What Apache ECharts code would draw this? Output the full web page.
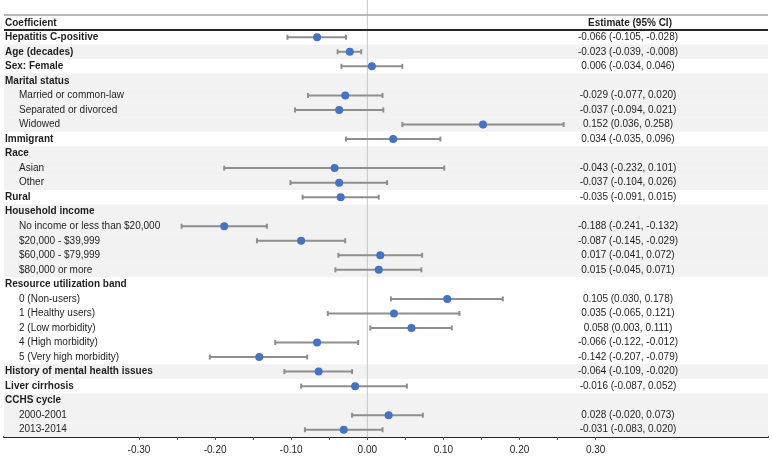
<!DOCTYPE html>
<html><head><meta charset="utf-8">
<script src="https://cdn.jsdelivr.net/npm/echarts@6/dist/echarts.min.js"></script>
<style>html,body{margin:0;padding:0;background:#fff}#c{width:772px;height:456px}</style>
</head><body><div id="c"></div>
<script>
const rowLabels = [
  'Hepatitis C-positive','Age (decades)','Sex: Female','Marital status',
  'Married or common-law','Separated or divorced','Widowed','Immigrant',
  'Race','Asian','Other','Rural','Household income',
  'No income or less than $20,000','$20,000 - $39,999','$60,000 - $79,999','$80,000 or more',
  'Resource utilization band','0 (Non-users)','1 (Healthy users)','2 (Low morbidity)',
  '4 (High morbidity)','5 (Very high morbidity)','History of mental health issues',
  'Liver cirrhosis','CCHS cycle','2000-2001','2013-2014'
];
const rowLevels = [0,0,0,0,1,1,1,0,0,1,1,0,0,1,1,1,1,0,1,1,1,1,1,0,0,0,1,1];
const estimates = [-0.066,-0.023,0.006,null,-0.029,-0.037,0.152,0.034,null,-0.043,-0.037,-0.035,null,
  -0.188,-0.087,0.017,0.015,null,0.105,0.035,0.058,-0.066,-0.142,-0.064,-0.016,null,0.028,-0.031];
const lowerCI = [-0.105,-0.039,-0.034,null,-0.078,-0.095,0.046,-0.028,null,-0.188,-0.101,-0.085,null,
  -0.244,-0.145,-0.038,-0.042,null,0.031,-0.052,0.004,-0.121,-0.207,-0.109,-0.087,null,-0.020,-0.082];
const upperCI = [-0.028,-0.008,0.046,null,0.020,0.021,0.258,0.096,null,0.101,0.026,0.015,null,
  -0.132,-0.029,0.072,0.071,null,0.178,0.121,0.111,-0.012,-0.079,-0.020,0.052,null,0.073,0.020];
const estimateTexts = [
  '-0.066 (-0.105, -0.028)','-0.023 (-0.039, -0.008)','0.006 (-0.034, 0.046)','',
  '-0.029 (-0.077, 0.020)','-0.037 (-0.094, 0.021)','0.152 (0.036, 0.258)','0.034 (-0.035, 0.096)',
  '','-0.043 (-0.232, 0.101)','-0.037 (-0.104, 0.026)','-0.035 (-0.091, 0.015)','',
  '-0.188 (-0.241, -0.132)','-0.087 (-0.145, -0.029)','0.017 (-0.041, 0.072)','0.015 (-0.045, 0.071)',
  '','0.105 (0.030, 0.178)','0.035 (-0.065, 0.121)','0.058 (0.003, 0.111)',
  '-0.066 (-0.122, -0.012)','-0.142 (-0.207, -0.079)','-0.064 (-0.109, -0.020)',
  '-0.016 (-0.087, 0.052)','','0.028 (-0.020, 0.073)','-0.031 (-0.083, 0.020)'
];
const axisLabelValues = [-0.3,-0.2,-0.1,0,0.1,0.2,0.3];
const axisTickValues = [-0.3,-0.25,-0.2,-0.15,-0.1,-0.05,0,0.05,0.1,0.15,0.2,0.25,0.3];
const headerLeft = 'Coefficient';
const headerRight = 'Estimate (95% CI)';

let grp = -1;
const rowGroups = rowLevels.map(l => (l === 0 ? ++grp : grp));

const FONT = '"Liberation Sans", Arial, sans-serif';
const TEXT = '#1e1e1e';
const W = 772;
const GRID = {left: 4, right: 4, top: 30, bottom: 19};
const X_MIN = -0.4774, X_MAX = 0.5265;
const EST_COL_X = 628;

const chart = echarts.init(document.getElementById('c'), null, {renderer: 'canvas'});

const rowData = rowLabels.map((l, i) => [0, i]);
const barData = [], dotData = [];
rowLabels.forEach((l, i) => {
  if (estimates[i] !== null) {
    barData.push([lowerCI[i], upperCI[i], i]);
    dotData.push([estimates[i], i]);
  }
});

chart.setOption({
  animation: false,
  grid: {left: GRID.left, right: GRID.right, top: GRID.top, bottom: GRID.bottom, containLabel: false},
  xAxis: {
    type: 'value', min: X_MIN, max: X_MAX,
    splitLine: {show: false},
    axisLine: {show: true, onZero: false, lineStyle: {color: '#262626', width: 2}},
    axisTick: {show: true, customValues: axisTickValues, length: 3, lineStyle: {color: '#555', width: 1}},
    axisLabel: {customValues: axisLabelValues, formatter: v => v.toFixed(2), fontSize: 10,
      color: TEXT, fontFamily: FONT, margin: 8}
  },
  yAxis: {type: 'category', data: rowLabels, inverse: true, show: false},
  graphic: [
    {type: 'line', shape: {x1: GRID.left, y1: 15, x2: W - GRID.right, y2: 15},
      style: {stroke: '#a0a0a0', lineWidth: 1.5}, z: 10},
    {type: 'line', shape: {x1: GRID.left, y1: 30, x2: W - GRID.right, y2: 30},
      style: {stroke: '#262626', lineWidth: 2}, z: 10},
    {type: 'text', x: 5, y: 23, style: {text: headerLeft, font: 'bold 10px ' + FONT, fill: TEXT,
      align: 'left', verticalAlign: 'middle'}, z: 10},
    {type: 'text', x: EST_COL_X + 2, y: 23, style: {text: headerRight, font: 'bold 10px ' + FONT, fill: TEXT,
      align: 'center', verticalAlign: 'middle'}, z: 10}
  ],
  series: [
    {
      type: 'custom', z: 1, silent: true,
      data: rowData,
      encode: {x: 0, y: 1},
      renderItem: function (params, api) {
        const i = params.dataIndex;
        const cs = params.coordSys;
        const yc = api.coord([0, i])[1];
        const h = api.size([0, 1])[1];
        const children = [];
        if (rowGroups[i] % 2 === 1) {
          children.push({type: 'rect', shape: {x: cs.x, y: yc - h / 2, width: cs.width, height: h},
            style: {fill: '#f2f2f2'}});
        }
        children.push({type: 'text', x: cs.x + (rowLevels[i] === 0 ? 1 : 15), y: yc,
          style: {text: rowLabels[i], font: (rowLevels[i] === 0 ? 'bold ' : '') + '10px ' + FONT,
            fill: TEXT, align: 'left', verticalAlign: 'middle'}});
        if (estimateTexts[i]) {
          children.push({type: 'text', x: EST_COL_X, y: yc,
            style: {text: estimateTexts[i], font: '10px ' + FONT, fill: TEXT,
              align: 'center', verticalAlign: 'middle'}});
        }
        return {type: 'group', children: children};
      }
    },
    {
      type: 'custom', z: 2, silent: true, clip: false,
      data: [[0, 0]],
      encode: {x: 0, y: 1},
      renderItem: function (params, api) {
        const cs = params.coordSys;
        const x = api.coord([0, 0])[0];
        return {type: 'line', shape: {x1: x, y1: 0, x2: x, y2: cs.y + cs.height},
          style: {stroke: '#c6c6c6', lineWidth: 1}};
      }
    },
    {
      type: 'custom', z: 3, silent: true,
      data: barData,
      encode: {x: [0, 1], y: 2},
      renderItem: function (params, api) {
        const i = api.value(2);
        const p1 = api.coord([api.value(0), i]);
        const p2 = api.coord([api.value(1), i]);
        const st = {stroke: '#8e8e8e', lineWidth: 2};
        return {type: 'group', children: [
          {type: 'line', shape: {x1: p1[0], y1: p1[1], x2: p2[0], y2: p2[1]}, style: st},
          {type: 'line', shape: {x1: p1[0], y1: p1[1] - 2.5, x2: p1[0], y2: p1[1] + 2.5}, style: st},
          {type: 'line', shape: {x1: p2[0], y1: p2[1] - 2.5, x2: p2[0], y2: p2[1] + 2.5}, style: st}
        ]};
      }
    },
    {
      type: 'scatter', z: 4, silent: true,
      data: dotData,
      symbol: 'circle', symbolSize: 8,
      itemStyle: {color: '#4472c4', opacity: 1}
    }
  ]
});
</script>
</body></html>
